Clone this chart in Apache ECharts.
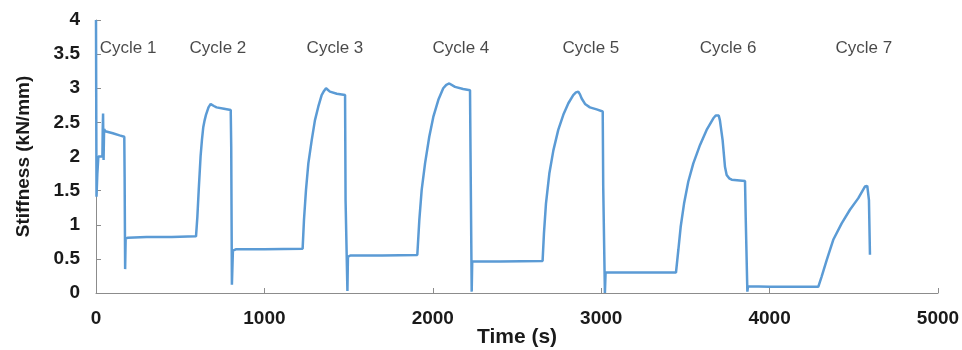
<!DOCTYPE html>
<html>
<head>
<meta charset="utf-8">
<script src="https://cdn.jsdelivr.net/npm/echarts@6/dist/echarts.min.js"></script>
<style>
  html, body { margin: 0; padding: 0; background: #fff; }
  #chart { width: 962px; height: 350px; }
</style>
</head>
<body>
<div id="chart"></div>
<script>
// time (s) and stiffness (kN/mm)
var timeS = [
  0, 3, 8, 14, 38, 40, 42, 44, 45, 48, 55, 100, 140, 168, 170, 173, 176, 190, 300, 450, 594,
  602, 610, 621, 629, 637, 645, 653, 668, 681, 700, 716, 760, 800, 803, 807, 813, 830, 1000, 1227,
  1235, 1247, 1261, 1281, 1300, 1320, 1340, 1354, 1366, 1389, 1430, 1479, 1482, 1493, 1496, 1510, 1700, 1908,
  1920, 1934, 1954, 1979, 2003, 2033, 2062, 2080, 2098, 2132, 2180, 2221, 2224, 2231, 2234, 2400, 2652,
  2660, 2672, 2692, 2716, 2745, 2775, 2805, 2834, 2850, 2864, 2874, 2884, 2904, 2933, 2973, 3009, 3012, 3022, 3026, 3200, 3444,
  3458, 3472, 3492, 3517, 3547, 3587, 3626, 3666, 3680, 3690, 3698, 3705, 3721, 3735, 3745, 3760, 3775, 3854, 3858, 3868, 3872, 4000, 4289,
  4309, 4339, 4378, 4428, 4477, 4527, 4566, 4575, 4580, 4590, 4596
];
var stiffness = [
  4.0, 1.41, 1.75, 2.0, 2.0, 2.4, 2.63, 2.1, 1.95, 2.4, 2.37, 2.34, 2.31, 2.29, 1.7, 0.35, 0.80, 0.81, 0.82, 0.82, 0.83,
  1.12, 1.51, 2.0, 2.24, 2.43, 2.53, 2.61, 2.72, 2.77, 2.74, 2.72, 2.70, 2.68, 2.14, 0.12, 0.62, 0.64, 0.64, 0.65,
  1.07, 1.51, 1.90, 2.24, 2.53, 2.73, 2.90, 2.96, 3.0, 2.95, 2.92, 2.90, 1.36, 0.03, 0.53, 0.55, 0.55, 0.556,
  1.07, 1.51, 1.90, 2.29, 2.58, 2.83, 3.0, 3.05, 3.07, 3.02, 2.99, 2.97, 2.05, 0.02, 0.46, 0.46, 0.47,
  0.87, 1.31, 1.75, 2.09, 2.39, 2.61, 2.78, 2.90, 2.94, 2.95, 2.91, 2.85, 2.77, 2.72, 2.69, 2.66, 1.56, 0.0, 0.30, 0.30, 0.30,
  0.63, 0.97, 1.31, 1.63, 1.90, 2.17, 2.39, 2.56, 2.60, 2.62, 2.60, 2.53, 2.24, 1.85, 1.73, 1.68, 1.66, 1.64, 1.12, 0.02, 0.10, 0.09, 0.09,
  0.24, 0.48, 0.78, 1.02, 1.22, 1.39, 1.56, 1.58, 1.57, 1.36, 0.56
];

// cycle annotations
var cycleNames = ['Cycle 1', 'Cycle 2', 'Cycle 3', 'Cycle 4', 'Cycle 5', 'Cycle 6', 'Cycle 7'];
var cycleX = [190, 724, 1419, 2167, 2939, 3753, 4560];
var cycleY = 3.59;

var lineData = [];
for (var i = 0; i < timeS.length; i++) {
  lineData.push([timeS[i], stiffness[i]]);
}
var labelData = [];
for (var j = 0; j < cycleNames.length; j++) {
  labelData.push({ value: [cycleX[j], cycleY], name: cycleNames[j] });
}

var axisGray = '#8c8c8c';
var textColor = '#1a1a1a';
var myChart = echarts.init(document.getElementById('chart'));
var option = {
  animation: false,
  textStyle: { fontFamily: 'Liberation Sans, Arial, sans-serif' },
  grid: { left: 96, right: 24, top: 20, bottom: 57, outerBoundsMode: 'none' },
  xAxis: {
    type: 'value',
    min: 0,
    max: 5000,
    interval: 1000,
    name: 'Time (s)',
    nameLocation: 'middle',
    nameGap: 34,
    nameMoveOverlap: false,
    nameTextStyle: { fontSize: 21, fontWeight: 'bold', color: textColor },
    axisLine: { show: true, lineStyle: { color: axisGray, width: 1 } },
    axisTick: { show: true, inside: true, length: 5, lineStyle: { color: axisGray } },
    axisLabel: {
      fontSize: 19, fontWeight: 'bold', color: textColor, margin: 16,
      formatter: function (v) { return String(v); }
    },
    splitLine: { show: false }
  },
  yAxis: {
    type: 'value',
    min: 0,
    max: 4,
    interval: 0.5,
    name: 'Stiffness (kN/mm)',
    nameLocation: 'middle',
    nameGap: 63,
    nameMoveOverlap: false,
    nameTextStyle: { fontSize: 19, fontWeight: 'bold', color: textColor },
    axisLine: { show: true, lineStyle: { color: axisGray, width: 1 } },
    axisTick: { show: true, inside: true, length: 5, lineStyle: { color: axisGray } },
    axisLabel: { fontSize: 19, fontWeight: 'bold', color: textColor, margin: 16 },
    splitLine: { show: false }
  },
  series: [
    {
      name: 'Stiffness',
      type: 'line',
      data: lineData,
      showSymbol: false,
      symbol: 'none',
      lineStyle: { color: '#5b9bd5', width: 2.5 },
      z: 3
    },
    {
      name: 'cycles',
      type: 'scatter',
      data: labelData,
      symbolSize: 0,
      silent: true,
      label: {
        show: true,
        position: 'inside',
        formatter: '{b}',
        fontSize: 17,
        color: textColor
      }
    }
  ]
};
myChart.setOption(option);
</script>
</body>
</html>
